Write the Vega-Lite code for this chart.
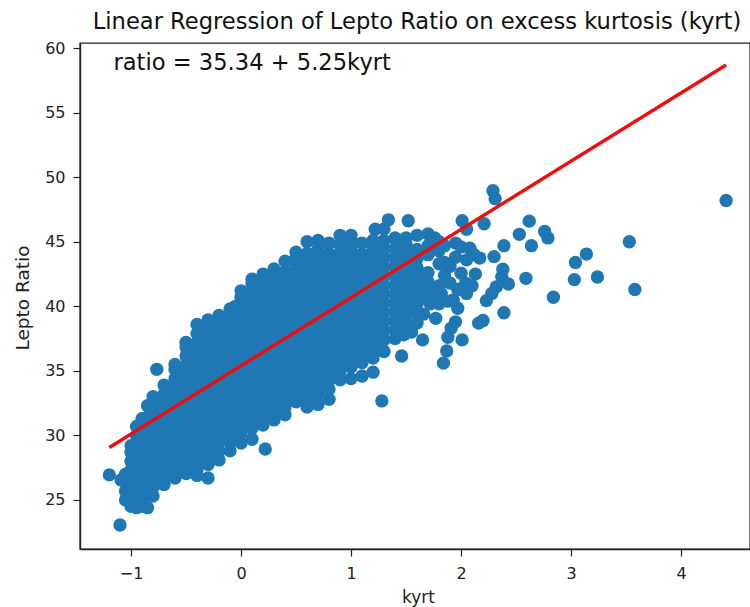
{"$schema":"https://vega.github.io/schema/vega-lite/v6.json","autosize":"none","padding":{"left":80,"top":43,"right":0,"bottom":58},"width":670,"height":506,"background":"white","view":{"stroke":"#222222","strokeWidth":1.4},"config":{"axis":{"grid":false,"labelFontSize":16,"titleFontSize":17,"labelFont":"DejaVu Sans","titleFont":"DejaVu Sans","labelColor":"#222222","titleColor":"#222222","titleFontWeight":"normal","domainColor":"#222222","tickColor":"#222222","domainWidth":1.4,"tickWidth":1.2,"tickSize":7}},"title":{"text":"Linear Regression of Lepto Ratio on excess kurtosis (kyrt)","font":"DejaVu Sans","fontSize":22.6,"fontWeight":"normal","color":"#111111","anchor":"middle","offset":7,"dx":2},"layer":[{"data":{"values":[
{"k":-1.1,"r":23.06},{"k":-1.197,"r":26.94},{"k":-1.09,"r":26.55},{"k":-0.766,"r":35.12},{"k":0.22,"r":28.95},{"k":1.28,"r":32.67},
{"k":4.41,"r":48.2},{"k":3.53,"r":45.0},{"k":3.14,"r":44.05},{"k":3.04,"r":43.4},{"k":3.03,"r":42.07},{"k":3.24,"r":42.27},{"k":3.58,"r":41.3},{"k":2.84,"r":40.7},{"k":2.59,"r":42.17},{"k":2.39,"r":39.5},{"k":2.43,"r":41.73},{"k":2.38,"r":42.87},{"k":2.39,"r":44.7},{"k":2.3,"r":43.85},{"k":2.53,"r":45.58},{"k":2.62,"r":46.6},{"k":2.64,"r":44.7},{"k":2.76,"r":45.8},{"k":2.79,"r":45.3},{"k":2.21,"r":46.4},{"k":2.29,"r":48.96},{"k":2.31,"r":48.34},{"k":2.01,"r":46.63},{"k":2.05,"r":45.97},{"k":1.52,"r":46.63},{"k":1.34,"r":46.7},{"k":1.22,"r":45.97},{"k":2.17,"r":43.74},{"k":2.37,"r":42.3},{"k":2.32,"r":41.5},{"k":2.28,"r":41.0},{"k":2.23,"r":40.44},{"k":2.2,"r":38.9},{"k":2.16,"r":38.7},{"k":2.01,"r":37.4},{"k":1.95,"r":38.8},{"k":1.91,"r":38.3},{"k":1.88,"r":37.6},{"k":1.87,"r":36.54},{"k":1.84,"r":35.6},{"k":1.46,"r":36.15},{"k":1.65,"r":37.4},{"k":1.77,"r":39.07},{"k":1.97,"r":39.85},{"k":2.13,"r":42.5},{"k":2.1,"r":41.6},{"k":2.05,"r":41.0},{"k":2.0,"r":42.56},{"k":2.04,"r":41.8},{"k":1.93,"r":40.5},{"k":1.6,"r":45.5},{"k":1.7,"r":45.6},{"k":1.76,"r":45.3},{"k":1.85,"r":44.7},{"k":1.95,"r":44.9},{"k":2.0,"r":44.6},{"k":2.08,"r":44.5},{"k":2.12,"r":44.0},{"k":1.95,"r":43.8},{"k":2.05,"r":43.6},{"k":1.9,"r":43.1},{"k":1.85,"r":43.4},{"k":1.97,"r":41.3},{"k":1.9,"r":41.8},{"k":1.85,"r":42.4},{"k":1.82,"r":41.0},{"k":1.88,"r":40.4},{"k":1.72,"r":40.2},{"k":1.66,"r":39.4},{"k":1.6,"r":38.7},{"k":1.55,"r":38.0},{"k":1.48,"r":37.8},
{"k":-0.15,"r":29.7},{"k":-0.15,"r":30.7},{"k":-0.15,"r":31.7},{"k":-0.15,"r":32.7},{"k":-0.15,"r":33.7},{"k":-0.15,"r":34.7},{"k":-0.15,"r":35.7},{"k":-0.15,"r":36.7},{"k":-0.15,"r":37.7},{"k":-0.15,"r":38.7},
{"k":-0.05,"r":30.0},{"k":-0.05,"r":31.0},{"k":-0.05,"r":32.0},{"k":-0.05,"r":33.0},{"k":-0.05,"r":34.0},{"k":-0.05,"r":35.0},{"k":-0.05,"r":36.0},{"k":-0.05,"r":37.0},{"k":-0.05,"r":38.0},{"k":-0.05,"r":39.0},{"k":-0.05,"r":40.0},
{"k":0.85,"r":34.9},{"k":0.85,"r":35.9},{"k":0.85,"r":36.9},{"k":0.85,"r":37.9},{"k":0.85,"r":38.9},{"k":0.85,"r":39.9},{"k":0.85,"r":40.9},{"k":0.85,"r":41.9},{"k":0.85,"r":42.9},{"k":0.85,"r":43.9},
{"k":1.25,"r":36.6},{"k":1.25,"r":37.6},{"k":1.25,"r":38.6},{"k":1.25,"r":39.6},{"k":1.25,"r":40.6},{"k":1.25,"r":41.6},{"k":1.25,"r":42.6},{"k":1.25,"r":43.6},{"k":1.25,"r":44.6},
{"k":0.65,"r":33.0},{"k":0.65,"r":34.0},{"k":0.65,"r":35.0},{"k":0.65,"r":36.0},{"k":0.65,"r":37.0},{"k":0.65,"r":38.0},{"k":0.65,"r":39.0},{"k":0.65,"r":40.0},{"k":0.65,"r":41.0},{"k":0.65,"r":42.0},{"k":0.65,"r":43.0},{"k":0.65,"r":44.0},
{"k":-1.05,"r":25.0},{"k":-1.05,"r":25.7},{"k":-1.05,"r":26.4},{"k":-1.05,"r":27.0},
{"k":-1.0,"r":24.5},{"k":-1.0,"r":25.2},{"k":-1.0,"r":25.9},{"k":-1.0,"r":26.6},{"k":-1.0,"r":27.3},{"k":-1.0,"r":28.0},{"k":-1.0,"r":28.7},{"k":-1.0,"r":29.2},
{"k":-0.95,"r":24.4},{"k":-0.95,"r":25.1},{"k":-0.95,"r":25.8},{"k":-0.95,"r":26.5},{"k":-0.95,"r":27.2},{"k":-0.95,"r":27.9},{"k":-0.95,"r":28.6},{"k":-0.95,"r":29.3},{"k":-0.95,"r":30.0},{"k":-0.95,"r":30.7},
{"k":-0.9,"r":24.5},{"k":-0.9,"r":25.2},{"k":-0.9,"r":25.9},{"k":-0.9,"r":26.6},{"k":-0.9,"r":27.3},{"k":-0.9,"r":28.0},{"k":-0.9,"r":28.7},{"k":-0.9,"r":29.4},{"k":-0.9,"r":30.1},{"k":-0.9,"r":30.8},{"k":-0.9,"r":31.3},
{"k":-0.85,"r":24.4},{"k":-0.85,"r":25.4},{"k":-0.85,"r":26.4},{"k":-0.85,"r":27.4},{"k":-0.85,"r":28.4},{"k":-0.85,"r":29.4},{"k":-0.85,"r":30.4},{"k":-0.85,"r":31.4},{"k":-0.85,"r":32.3},
{"k":-0.8,"r":25.3},{"k":-0.8,"r":26.0},{"k":-0.8,"r":26.7},{"k":-0.8,"r":27.4},{"k":-0.8,"r":28.1},{"k":-0.8,"r":28.8},{"k":-0.8,"r":29.5},{"k":-0.8,"r":30.2},{"k":-0.8,"r":30.9},{"k":-0.8,"r":31.6},{"k":-0.8,"r":32.3},{"k":-0.8,"r":33.0},
{"k":-0.7,"r":26.2},{"k":-0.7,"r":26.9},{"k":-0.7,"r":27.6},{"k":-0.7,"r":28.3},{"k":-0.7,"r":29.0},{"k":-0.7,"r":29.7},{"k":-0.7,"r":30.4},{"k":-0.7,"r":31.1},{"k":-0.7,"r":31.8},{"k":-0.7,"r":32.5},{"k":-0.7,"r":33.2},{"k":-0.7,"r":33.9},
{"k":-0.6,"r":26.7},{"k":-0.6,"r":27.4},{"k":-0.6,"r":28.1},{"k":-0.6,"r":28.8},{"k":-0.6,"r":29.5},{"k":-0.6,"r":30.2},{"k":-0.6,"r":30.9},{"k":-0.6,"r":31.6},{"k":-0.6,"r":32.3},{"k":-0.6,"r":33.0},{"k":-0.6,"r":33.7},{"k":-0.6,"r":34.4},{"k":-0.6,"r":35.1},{"k":-0.6,"r":35.5},
{"k":-0.5,"r":27.05},{"k":-0.5,"r":27.75},{"k":-0.5,"r":28.45},{"k":-0.5,"r":29.15},{"k":-0.5,"r":29.85},{"k":-0.5,"r":30.55},{"k":-0.5,"r":31.25},{"k":-0.5,"r":31.95},{"k":-0.5,"r":32.65},{"k":-0.5,"r":33.35},{"k":-0.5,"r":34.05},{"k":-0.5,"r":34.75},{"k":-0.5,"r":35.45},{"k":-0.5,"r":36.15},{"k":-0.5,"r":36.85},{"k":-0.5,"r":37.2},
{"k":-0.4,"r":26.9},{"k":-0.4,"r":27.4},{"k":-0.4,"r":28.1},{"k":-0.4,"r":28.8},{"k":-0.4,"r":29.5},{"k":-0.4,"r":30.2},{"k":-0.4,"r":30.9},{"k":-0.4,"r":31.6},{"k":-0.4,"r":32.3},{"k":-0.4,"r":33.0},{"k":-0.4,"r":33.7},{"k":-0.4,"r":34.4},{"k":-0.4,"r":35.1},{"k":-0.4,"r":35.8},{"k":-0.4,"r":36.5},{"k":-0.4,"r":37.2},{"k":-0.4,"r":37.9},{"k":-0.4,"r":38.6},
{"k":-0.3,"r":26.7},{"k":-0.3,"r":27.75},{"k":-0.3,"r":28.45},{"k":-0.3,"r":29.15},{"k":-0.3,"r":29.85},{"k":-0.3,"r":30.55},{"k":-0.3,"r":31.25},{"k":-0.3,"r":31.95},{"k":-0.3,"r":32.65},{"k":-0.3,"r":33.35},{"k":-0.3,"r":34.05},{"k":-0.3,"r":34.75},{"k":-0.3,"r":35.45},{"k":-0.3,"r":36.15},{"k":-0.3,"r":36.85},{"k":-0.3,"r":37.55},{"k":-0.3,"r":38.25},{"k":-0.3,"r":38.95},
{"k":-0.2,"r":28.1},{"k":-0.2,"r":28.8},{"k":-0.2,"r":29.5},{"k":-0.2,"r":30.2},{"k":-0.2,"r":30.9},{"k":-0.2,"r":31.6},{"k":-0.2,"r":32.3},{"k":-0.2,"r":33.0},{"k":-0.2,"r":33.7},{"k":-0.2,"r":34.4},{"k":-0.2,"r":35.1},{"k":-0.2,"r":35.8},{"k":-0.2,"r":36.5},{"k":-0.2,"r":37.2},{"k":-0.2,"r":37.9},{"k":-0.2,"r":38.6},{"k":-0.2,"r":39.3},
{"k":-0.1,"r":28.8},{"k":-0.1,"r":29.45},{"k":-0.1,"r":30.15},{"k":-0.1,"r":30.85},{"k":-0.1,"r":31.55},{"k":-0.1,"r":32.25},{"k":-0.1,"r":32.95},{"k":-0.1,"r":33.65},{"k":-0.1,"r":34.35},{"k":-0.1,"r":35.05},{"k":-0.1,"r":35.75},{"k":-0.1,"r":36.45},{"k":-0.1,"r":37.15},{"k":-0.1,"r":37.85},{"k":-0.1,"r":38.55},{"k":-0.1,"r":39.25},{"k":-0.1,"r":39.8},
{"k":0.0,"r":29.4},{"k":0.0,"r":30.2},{"k":0.0,"r":30.9},{"k":0.0,"r":31.6},{"k":0.0,"r":32.3},{"k":0.0,"r":33.0},{"k":0.0,"r":33.7},{"k":0.0,"r":34.4},{"k":0.0,"r":35.1},{"k":0.0,"r":35.8},{"k":0.0,"r":36.5},{"k":0.0,"r":37.2},{"k":0.0,"r":37.9},{"k":0.0,"r":38.6},{"k":0.0,"r":39.3},{"k":0.0,"r":40.0},{"k":0.0,"r":40.7},{"k":0.0,"r":41.2},
{"k":0.1,"r":29.7},{"k":0.1,"r":30.55},{"k":0.1,"r":31.25},{"k":0.1,"r":31.95},{"k":0.1,"r":32.65},{"k":0.1,"r":33.35},{"k":0.1,"r":34.05},{"k":0.1,"r":34.75},{"k":0.1,"r":35.45},{"k":0.1,"r":36.15},{"k":0.1,"r":36.85},{"k":0.1,"r":37.55},{"k":0.1,"r":38.25},{"k":0.1,"r":38.95},{"k":0.1,"r":39.65},{"k":0.1,"r":40.35},{"k":0.1,"r":41.05},{"k":0.1,"r":41.75},{"k":0.1,"r":42.1},
{"k":0.2,"r":30.8},{"k":0.2,"r":31.5},{"k":0.2,"r":32.2},{"k":0.2,"r":32.9},{"k":0.2,"r":33.6},{"k":0.2,"r":34.3},{"k":0.2,"r":35.0},{"k":0.2,"r":35.7},{"k":0.2,"r":36.4},{"k":0.2,"r":37.1},{"k":0.2,"r":37.8},{"k":0.2,"r":38.5},{"k":0.2,"r":39.2},{"k":0.2,"r":39.9},{"k":0.2,"r":40.6},{"k":0.2,"r":41.3},{"k":0.2,"r":42.0},{"k":0.2,"r":42.5},
{"k":0.3,"r":31.2},{"k":0.3,"r":31.85},{"k":0.3,"r":32.55},{"k":0.3,"r":33.25},{"k":0.3,"r":33.95},{"k":0.3,"r":34.65},{"k":0.3,"r":35.35},{"k":0.3,"r":36.05},{"k":0.3,"r":36.75},{"k":0.3,"r":37.45},{"k":0.3,"r":38.15},{"k":0.3,"r":38.85},{"k":0.3,"r":39.55},{"k":0.3,"r":40.25},{"k":0.3,"r":40.95},{"k":0.3,"r":41.65},{"k":0.3,"r":42.35},{"k":0.3,"r":42.9},
{"k":0.4,"r":31.6},{"k":0.4,"r":32.2},{"k":0.4,"r":32.9},{"k":0.4,"r":33.6},{"k":0.4,"r":34.3},{"k":0.4,"r":35.0},{"k":0.4,"r":35.7},{"k":0.4,"r":36.4},{"k":0.4,"r":37.1},{"k":0.4,"r":37.8},{"k":0.4,"r":38.5},{"k":0.4,"r":39.2},{"k":0.4,"r":39.9},{"k":0.4,"r":40.6},{"k":0.4,"r":41.3},{"k":0.4,"r":42.0},{"k":0.4,"r":42.7},{"k":0.4,"r":43.5},
{"k":0.5,"r":32.6},{"k":0.5,"r":33.25},{"k":0.5,"r":33.95},{"k":0.5,"r":34.65},{"k":0.5,"r":35.35},{"k":0.5,"r":36.05},{"k":0.5,"r":36.75},{"k":0.5,"r":37.45},{"k":0.5,"r":38.15},{"k":0.5,"r":38.85},{"k":0.5,"r":39.55},{"k":0.5,"r":40.25},{"k":0.5,"r":40.95},{"k":0.5,"r":41.65},{"k":0.5,"r":42.35},{"k":0.5,"r":43.05},{"k":0.5,"r":43.75},{"k":0.5,"r":44.2},
{"k":0.6,"r":32.2},{"k":0.6,"r":32.9},{"k":0.6,"r":33.6},{"k":0.6,"r":34.3},{"k":0.6,"r":35.0},{"k":0.6,"r":35.7},{"k":0.6,"r":36.4},{"k":0.6,"r":37.1},{"k":0.6,"r":37.8},{"k":0.6,"r":38.5},{"k":0.6,"r":39.2},{"k":0.6,"r":39.9},{"k":0.6,"r":40.6},{"k":0.6,"r":41.3},{"k":0.6,"r":42.0},{"k":0.6,"r":42.7},{"k":0.6,"r":43.4},{"k":0.6,"r":44.1},{"k":0.6,"r":45.0},
{"k":0.7,"r":32.4},{"k":0.7,"r":33.25},{"k":0.7,"r":33.95},{"k":0.7,"r":34.65},{"k":0.7,"r":35.35},{"k":0.7,"r":36.05},{"k":0.7,"r":36.75},{"k":0.7,"r":37.45},{"k":0.7,"r":38.15},{"k":0.7,"r":38.85},{"k":0.7,"r":39.55},{"k":0.7,"r":40.25},{"k":0.7,"r":40.95},{"k":0.7,"r":41.65},{"k":0.7,"r":42.35},{"k":0.7,"r":43.05},{"k":0.7,"r":43.75},{"k":0.7,"r":44.45},{"k":0.7,"r":45.1},
{"k":0.8,"r":32.8},{"k":0.8,"r":33.6},{"k":0.8,"r":34.3},{"k":0.8,"r":35.0},{"k":0.8,"r":35.7},{"k":0.8,"r":36.4},{"k":0.8,"r":37.1},{"k":0.8,"r":37.8},{"k":0.8,"r":38.5},{"k":0.8,"r":39.2},{"k":0.8,"r":39.9},{"k":0.8,"r":40.6},{"k":0.8,"r":41.3},{"k":0.8,"r":42.0},{"k":0.8,"r":42.7},{"k":0.8,"r":43.4},{"k":0.8,"r":44.1},{"k":0.8,"r":44.9},
{"k":0.9,"r":34.3},{"k":0.9,"r":34.95},{"k":0.9,"r":35.65},{"k":0.9,"r":36.35},{"k":0.9,"r":37.05},{"k":0.9,"r":37.75},{"k":0.9,"r":38.45},{"k":0.9,"r":39.15},{"k":0.9,"r":39.85},{"k":0.9,"r":40.55},{"k":0.9,"r":41.25},{"k":0.9,"r":41.95},{"k":0.9,"r":42.65},{"k":0.9,"r":43.35},{"k":0.9,"r":44.05},{"k":0.9,"r":44.75},{"k":0.9,"r":45.5},
{"k":1.0,"r":34.4},{"k":1.0,"r":35.3},{"k":1.0,"r":36.0},{"k":1.0,"r":36.7},{"k":1.0,"r":37.4},{"k":1.0,"r":38.1},{"k":1.0,"r":38.8},{"k":1.0,"r":39.5},{"k":1.0,"r":40.2},{"k":1.0,"r":40.9},{"k":1.0,"r":41.6},{"k":1.0,"r":42.3},{"k":1.0,"r":43.0},{"k":1.0,"r":43.7},{"k":1.0,"r":44.4},{"k":1.0,"r":45.1},{"k":1.0,"r":45.5},
{"k":1.1,"r":34.6},{"k":1.1,"r":35.65},{"k":1.1,"r":36.35},{"k":1.1,"r":37.05},{"k":1.1,"r":37.75},{"k":1.1,"r":38.45},{"k":1.1,"r":39.15},{"k":1.1,"r":39.85},{"k":1.1,"r":40.55},{"k":1.1,"r":41.25},{"k":1.1,"r":41.95},{"k":1.1,"r":42.65},{"k":1.1,"r":43.35},{"k":1.1,"r":44.05},{"k":1.1,"r":44.9},
{"k":1.2,"r":34.9},{"k":1.2,"r":36.0},{"k":1.2,"r":36.7},{"k":1.2,"r":37.4},{"k":1.2,"r":38.1},{"k":1.2,"r":38.8},{"k":1.2,"r":39.5},{"k":1.2,"r":40.2},{"k":1.2,"r":40.9},{"k":1.2,"r":41.6},{"k":1.2,"r":42.3},{"k":1.2,"r":43.0},{"k":1.2,"r":43.7},{"k":1.2,"r":44.4},{"k":1.2,"r":45.1},
{"k":1.3,"r":36.5},{"k":1.3,"r":37.4},{"k":1.3,"r":38.1},{"k":1.3,"r":38.8},{"k":1.3,"r":39.5},{"k":1.3,"r":40.2},{"k":1.3,"r":40.9},{"k":1.3,"r":41.6},{"k":1.3,"r":42.3},{"k":1.3,"r":43.0},{"k":1.3,"r":43.7},{"k":1.3,"r":44.4},{"k":1.3,"r":45.1},{"k":1.3,"r":46.0},
{"k":1.4,"r":37.5},{"k":1.4,"r":38.2},{"k":1.4,"r":38.9},{"k":1.4,"r":39.6},{"k":1.4,"r":40.3},{"k":1.4,"r":41.0},{"k":1.4,"r":41.7},{"k":1.4,"r":42.4},{"k":1.4,"r":43.1},{"k":1.4,"r":43.8},{"k":1.4,"r":44.5},{"k":1.4,"r":45.3},
{"k":1.5,"r":38.5},{"k":1.5,"r":39.2},{"k":1.5,"r":39.9},{"k":1.5,"r":40.6},{"k":1.5,"r":41.3},{"k":1.5,"r":42.0},{"k":1.5,"r":42.7},{"k":1.5,"r":43.4},{"k":1.5,"r":44.1},{"k":1.5,"r":44.8},{"k":1.5,"r":45.3},
{"k":1.6,"r":39.5},{"k":1.6,"r":40.2},{"k":1.6,"r":40.9},{"k":1.6,"r":41.6},{"k":1.6,"r":42.3},{"k":1.6,"r":43.0},{"k":1.6,"r":43.7},{"k":1.6,"r":44.4},
{"k":1.7,"r":40.5},{"k":1.7,"r":41.2},{"k":1.7,"r":41.9},{"k":1.7,"r":42.6},{"k":1.7,"r":44.0},{"k":1.7,"r":44.7},
{"k":1.8,"r":40.2},{"k":1.8,"r":40.9},{"k":1.8,"r":41.6},{"k":1.8,"r":43.3},{"k":1.8,"r":44.3},{"k":1.8,"r":45.0}
]},"mark":{"type":"point","shape":"circle","filled":true,"opacity":1,"color":"#1f77b4","size":178,"strokeWidth":0,"clip":true},"encoding":{"x":{"field":"k","type":"quantitative","title":"kyrt","scale":{"domain":[-1.464,4.627],"nice":false,"zero":false},"axis":{"values":[-1,0,1,2,3,4],"format":"d","titlePadding":8,"labelPadding":9,"titleX":338,"labelExpr":"replace(datum.label,'-','\u2212')"}},"y":{"field":"r","type":"quantitative","title":"Lepto Ratio","scale":{"domain":[21.2,60.4],"nice":false,"zero":false},"axis":{"values":[25,30,35,40,45,50,55,60],"labelPadding":8,"titleX":-58,"titleY":254.5,"titleFontSize":18.5,"titleBaseline":"middle"}}}},
{"data":{"values":[{"k":-1.197,"r":29.06},{"k":4.41,"r":58.7}]},"mark":{"type":"line","color":"#f00d0d","strokeWidth":3.4},"encoding":{"x":{"field":"k","type":"quantitative"},"y":{"field":"r","type":"quantitative"}}},
{"data":{"values":[{"k":-1.16,"r":58.85,"label":"ratio = 35.34 + 5.25kyrt"}]},"mark":{"type":"text","align":"left","baseline":"middle","font":"DejaVu Sans","fontSize":22.6,"color":"#111111"},"encoding":{"x":{"field":"k","type":"quantitative"},"y":{"field":"r","type":"quantitative"},"text":{"field":"label"}}}
]}
